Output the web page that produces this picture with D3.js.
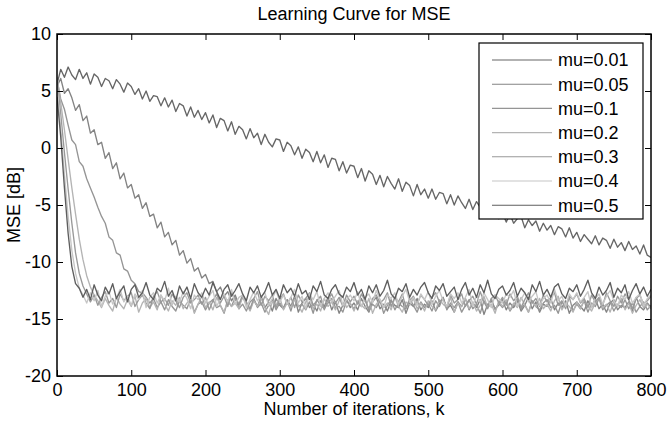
<!DOCTYPE html>
<html><head><meta charset="utf-8">
<script src="https://cdn.jsdelivr.net/npm/d3@7"></script>
<style>
body{margin:0;background:#fff}
text{font-family:"Liberation Sans",Arial,Helvetica,sans-serif;fill:#000}
</style>
</head><body>
<svg id="chart" width="668" height="424"></svg>
<script>
// iteration index k (every 5th iteration)
const iterations = d3.range(0, 801, 5);
const seriesNames = ["mu=0.01","mu=0.05","mu=0.1","mu=0.2","mu=0.3","mu=0.4","mu=0.5"];
const xTicks = [0,100,200,300,400,500,600,700,800];
const yTicks = [10,5,0,-5,-10,-15,-20];

const mse_mu001 = [
 5.6,6.9,6.2,7.1,6.4,6.0,6.9,6.1,6.6,5.6,6.5,6.2,5.4,6.1,5.9,5.2,6.0,5.6,4.9,5.7,
 5.4,4.7,5.2,4.3,5.0,4.1,4.6,4.5,3.7,4.4,3.6,4.2,3.2,3.9,3.7,2.8,3.6,2.7,3.3,2.5,
 3.1,2.2,2.9,1.8,2.6,2.4,1.5,2.3,1.2,1.9,1.6,0.8,1.7,0.9,1.3,0.3,1.2,0.5,0.1,0.8,
 0.7,-0.3,0.5,0.2,-0.6,0.1,-0.9,-0.1,-0.4,-1.2,-0.3,-1.3,-0.6,-1.7,-0.9,-1.0,-2.0,-1.2,-2.2,-1.5,
 -1.6,-2.6,-1.8,-2.9,-2.0,-2.3,-3.2,-2.4,-3.4,-2.5,-3.1,-3.6,-2.7,-3.8,-3.0,-3.3,-4.2,-3.2,-4.1,-3.6,
 -4.4,-3.6,-4.5,-3.9,-4.0,-4.9,-4.1,-5.0,-4.2,-4.8,-5.3,-4.5,-5.4,-4.7,-5.2,-5.7,-4.9,-5.9,-5.3,-6.2,
 -5.7,-6.5,-5.8,-6.6,-6.2,-6.0,-7.0,-6.3,-6.8,-6.4,-7.3,-6.6,-7.2,-6.8,-7.6,-6.9,-7.1,-7.8,-7.0,-7.9,
 -7.4,-8.2,-7.6,-8.0,-8.4,-7.7,-8.5,-7.9,-8.1,-8.8,-8.0,-8.7,-8.3,-9.0,-8.2,-8.9,-8.6,-9.3,-8.5,-9.4,
 -9.6];

const mse_mu005 = [
 5.4,6.1,4.8,5.2,4.4,3.3,3.8,2.4,2.8,1.3,1.6,0.3,0.5,-0.9,-0.4,-1.8,-1.3,-2.7,-2.2,-3.5,
 -3.2,-4.4,-4.1,-5.3,-4.8,-6.0,-5.8,-7.0,-6.5,-7.8,-7.4,-8.5,-8.1,-9.4,-9.0,-10.1,-9.7,-10.8,-10.5,-11.4,
 -11.1,-11.9,-11.7,-12.6,-12.2,-13.0,-12.6,-13.4,-12.9,-13.8,-13.1,-13.6,-14.2,-13.3,-13.9,-13.0,-14.0,-13.5,-14.3,-13.2,
 -13.8,-14.1,-13.3,-13.9,-13.0,-14.4,-13.6,-13.2,-14.0,-13.7,-14.3,-13.4,-13.9,-13.1,-14.2,-13.5,-14.5,-13.8,-13.3,-14.0,
 -13.6,-14.2,-13.2,-13.9,-14.4,-13.5,-13.1,-14.1,-13.7,-14.3,-13.4,-13.8,-14.0,-13.3,-14.5,-13.6,-13.9,-13.2,-14.2,-13.7,
 -14.0,-13.4,-14.3,-13.7,-13.1,-14.1,-13.8,-14.4,-13.5,-13.9,-13.2,-14.2,-13.6,-14.0,-13.3,-14.6,-13.7,-13.4,-14.1,-13.8,
 -13.3,-14.2,-13.6,-14.0,-13.4,-14.3,-13.8,-13.1,-14.1,-13.5,-14.4,-13.7,-13.9,-13.2,-14.2,-13.6,-14.0,-13.4,-14.5,-13.8,
 -13.5,-13.9,-14.3,-13.4,-14.0,-13.2,-14.1,-13.7,-14.4,-13.6,-13.3,-14.2,-13.8,-14.0,-13.5,-14.3,-13.1,-13.9,-14.2,-13.6,
 -14.0];

const mse_mu01 = [
 6.0,4.3,3.4,2.0,0.7,0.3,-1.2,-1.6,-2.7,-3.5,-4.3,-5.2,-6.0,-6.6,-7.8,-8.1,-9.2,-9.4,-10.6,-10.8,
 -11.6,-11.9,-12.6,-12.7,-13.1,-13.6,-13.2,-14.0,-13.5,-14.2,-13.3,-13.9,-14.3,-13.4,-13.8,-14.1,-13.2,-14.4,-13.7,-13.5,
 -14.2,-13.6,-13.3,-14.0,-13.8,-14.5,-13.4,-13.9,-13.1,-14.1,-13.7,-14.3,-13.5,-13.2,-14.0,-13.6,-14.4,-13.8,-13.3,-14.2,
 -13.6,-14.0,-13.4,-14.3,-13.1,-13.9,-13.7,-14.2,-13.5,-14.5,-13.3,-13.8,-14.1,-13.6,-13.2,-14.0,-13.9,-14.4,-13.4,-13.7,
 -14.1,-13.5,-13.9,-13.2,-14.3,-13.7,-14.0,-13.4,-14.5,-13.8,-13.3,-14.2,-13.6,-13.9,-14.1,-13.2,-13.8,-14.4,-13.5,-14.0,
 -13.7,-14.3,-13.4,-13.9,-13.1,-14.2,-13.6,-14.0,-13.5,-14.4,-13.8,-13.3,-14.1,-13.7,-14.5,-13.4,-13.9,-13.2,-14.2,-13.6,
 -14.0,-13.5,-14.3,-13.8,-13.2,-14.1,-13.7,-14.4,-13.4,-13.9,-14.2,-13.6,-13.3,-14.0,-13.8,-14.5,-13.5,-13.9,-13.1,-14.3,
 -13.7,-14.1,-13.4,-14.4,-13.6,-13.9,-13.2,-14.2,-13.8,-13.5,-14.3,-13.7,-14.0,-13.3,-14.1,-13.6,-14.4,-13.9,-13.5,-14.2,
 -13.8];

const mse_mu02 = [
 6.2,4.0,1.6,-1.0,-3.5,-5.8,-8.0,-9.8,-11.2,-12.2,-12.9,-13.4,-14.0,-13.2,-13.8,-14.3,-13.1,-13.7,-14.1,-13.3,
 -13.9,-13.0,-14.4,-13.6,-13.2,-14.0,-13.5,-14.2,-12.9,-13.7,-14.3,-13.4,-13.8,-13.1,-14.1,-13.6,-13.3,-14.5,-13.7,-13.0,
 -14.0,-13.5,-14.2,-13.1,-13.8,-14.4,-13.3,-13.9,-13.6,-14.1,-13.0,-13.7,-14.3,-13.4,-13.9,-13.2,-14.0,-14.6,-13.5,-13.8,
 -13.1,-14.2,-13.6,-14.0,-13.3,-13.8,-14.4,-13.5,-13.0,-14.1,-13.7,-14.3,-13.2,-13.9,-13.5,-14.2,-13.4,-13.0,-14.0,-13.6,
 -14.3,-13.4,-13.8,-14.1,-13.2,-14.5,-13.7,-13.3,-14.0,-13.6,-14.2,-13.1,-13.9,-14.4,-13.5,-13.8,-13.2,-14.1,-13.6,-14.3,
 -13.4,-13.9,-14.2,-13.3,-13.7,-14.0,-13.1,-14.4,-13.6,-13.9,-13.2,-14.1,-13.5,-14.3,-13.8,-13.0,-14.0,-13.7,-14.5,-13.4,
 -13.9,-13.3,-14.2,-13.6,-14.0,-13.1,-13.8,-14.4,-13.5,-13.9,-13.2,-14.1,-13.7,-14.3,-13.4,-13.0,-14.2,-13.6,-13.9,-14.4,
 -13.5,-14.1,-13.3,-13.8,-14.3,-13.6,-13.1,-14.0,-13.7,-14.4,-13.4,-13.9,-13.2,-14.2,-13.6,-14.5,-13.8,-13.3,-14.0,-13.7,
 -14.1];

const mse_mu03 = [
 6.0,3.0,-0.4,-3.6,-6.6,-9.2,-11.0,-12.1,-12.8,-13.5,-12.9,-13.8,-13.1,-12.6,-13.6,-13.2,-14.0,-12.8,-13.4,-13.0,
 -12.7,-13.9,-13.3,-12.9,-13.6,-14.1,-13.0,-12.6,-13.5,-13.2,-13.8,-12.8,-13.4,-14.0,-13.1,-12.7,-13.6,-13.3,-12.9,-13.7,
 -13.1,-14.2,-13.4,-12.8,-13.6,-13.0,-13.9,-12.7,-13.3,-13.7,-12.9,-13.5,-14.1,-13.2,-12.6,-13.8,-13.0,-13.4,-12.9,-14.0,
 -13.3,-12.8,-13.7,-13.1,-14.0,-12.9,-13.5,-13.2,-12.7,-13.8,-13.4,-13.0,-14.2,-13.3,-12.8,-13.6,-13.1,-13.9,-12.9,-13.5,
 -13.0,-13.7,-12.8,-13.4,-14.1,-13.2,-12.9,-13.6,-13.3,-12.7,-13.9,-13.1,-13.5,-12.8,-14.0,-13.4,-13.0,-13.7,-12.9,-13.3,
 -13.8,-13.1,-12.7,-13.5,-13.2,-14.0,-12.9,-13.6,-13.3,-12.8,-13.9,-13.4,-13.0,-13.7,-12.6,-13.5,-14.1,-13.2,-12.9,-13.6,
 -13.1,-13.8,-12.8,-13.4,-13.0,-14.0,-13.3,-12.7,-13.6,-13.2,-13.9,-12.9,-13.5,-13.1,-12.7,-13.8,-13.4,-14.1,-13.0,-13.3,
 -12.8,-13.6,-13.2,-14.0,-12.9,-13.5,-13.1,-13.8,-12.7,-13.4,-13.9,-13.0,-13.6,-12.8,-13.3,-14.1,-13.2,-12.9,-13.7,-13.4,
 -13.0];

const mse_mu04 = [
 5.5,1.8,-2.3,-6.0,-9.0,-11.0,-12.3,-12.9,-13.6,-12.7,-13.4,-12.5,-13.9,-13.0,-12.6,-13.7,-13.2,-12.4,-13.5,-13.0,
 -13.8,-12.8,-13.3,-12.5,-14.0,-13.1,-12.7,-13.6,-12.9,-13.4,-12.3,-13.8,-13.0,-13.5,-12.6,-13.2,-14.1,-12.9,-13.3,-12.7,
 -13.6,-13.0,-12.5,-13.9,-13.2,-12.8,-13.5,-12.4,-13.7,-13.1,-12.9,-14.0,-13.3,-12.6,-13.4,-13.0,-12.7,-13.8,-13.2,-12.5,
 -13.5,-12.9,-13.7,-13.1,-12.4,-13.6,-13.0,-14.1,-12.8,-13.3,-12.6,-13.9,-13.2,-12.7,-13.5,-13.0,-12.5,-13.8,-13.3,-12.9,
 -13.4,-12.6,-13.9,-13.1,-12.8,-13.6,-12.5,-13.3,-14.0,-12.9,-13.2,-12.7,-13.7,-13.0,-12.4,-13.5,-13.1,-13.8,-12.8,-13.3,
 -12.6,-13.7,-13.0,-12.5,-13.4,-13.9,-12.8,-13.2,-12.7,-13.6,-13.1,-12.4,-13.8,-13.0,-13.5,-12.7,-13.3,-14.0,-12.9,-13.2,
 -13.6,-12.8,-13.1,-12.5,-13.9,-13.3,-12.7,-13.5,-13.0,-12.6,-13.8,-13.2,-12.9,-13.6,-12.4,-13.4,-13.0,-13.9,-12.8,-13.3,
 -12.7,-13.5,-13.1,-12.6,-14.0,-13.2,-12.8,-13.7,-13.0,-12.5,-13.4,-13.9,-12.9,-13.3,-12.6,-13.6,-13.1,-12.8,-13.8,-13.2,
 -12.9];

const mse_mu05 = [
 4.5,1.0,-3.5,-7.5,-10.4,-11.9,-12.3,-13.1,-12.4,-13.3,-12.0,-12.9,-13.4,-12.2,-12.8,-11.9,-13.2,-12.6,-12.1,-13.5,
 -12.4,-12.0,-13.1,-12.7,-11.8,-12.9,-13.3,-12.3,-12.6,-11.7,-13.0,-12.5,-13.4,-12.1,-12.8,-12.2,-13.2,-11.9,-12.7,-13.1,
 -12.3,-12.9,-11.8,-12.6,-13.3,-12.4,-12.0,-13.0,-12.5,-11.9,-12.8,-13.4,-12.2,-12.7,-12.1,-13.1,-12.6,-11.8,-12.9,-12.4,
 -13.2,-12.0,-12.7,-12.3,-13.0,-11.9,-12.8,-12.5,-13.3,-12.1,-12.6,-11.7,-12.9,-13.2,-12.4,-12.0,-12.8,-13.1,-12.2,-12.6,
 -11.8,-12.9,-12.4,-13.3,-12.1,-12.7,-12.0,-13.0,-12.5,-11.6,-12.8,-13.2,-12.3,-12.6,-11.9,-13.1,-12.4,-12.9,-12.2,-11.8,
 -12.7,-13.2,-12.1,-12.5,-11.9,-13.0,-12.6,-12.2,-13.3,-12.4,-11.8,-12.9,-12.3,-13.1,-12.0,-12.7,-11.6,-12.8,-13.2,-12.4,
 -12.1,-12.9,-12.5,-11.8,-13.0,-12.3,-12.7,-13.3,-12.0,-12.6,-11.7,-12.9,-12.4,-13.1,-12.2,-11.9,-12.8,-13.2,-12.3,-12.6,
 -12.0,-13.0,-12.4,-11.6,-12.7,-13.2,-12.2,-12.9,-12.5,-11.8,-13.1,-12.3,-12.7,-12.0,-13.3,-12.5,-11.9,-12.8,-12.2,-13.0,
 -12.4];

const seriesValues = [mse_mu001, mse_mu005, mse_mu01, mse_mu02, mse_mu03, mse_mu04, mse_mu05];
const lineColors = ["#666666","#838383","#959595","#b4b4b4","#999999","#c6c6c6","#5e5e5e"];

const svg = d3.select("#chart");
const L = 57, R = 651, T = 34, B = 376;
const x = d3.scaleLinear().domain([0, 800]).range([L, R]);
const y = d3.scaleLinear().domain([-20, 10]).range([B, T]);
const FS = 18;

svg.append("defs").append("clipPath").attr("id","clip")
  .append("rect").attr("x", L).attr("y", T).attr("width", R - L).attr("height", B - T);

// lines
const line = d3.line().x((d, i) => x(iterations[i])).y(d => y(d));
const g = svg.append("g").attr("clip-path", "url(#clip)");
seriesValues.forEach((vals, si) => {
  g.append("path").datum(vals)
    .attr("d", line)
    .attr("fill", "none")
    .attr("stroke", lineColors[si])
    .attr("stroke-width", 1.35)
    .attr("stroke-linejoin", "round");
});

// axes (inward ticks, MATLAB style)
function styleAxis(sel) {
  sel.select(".domain").remove();
  sel.selectAll(".tick line").attr("stroke", "#000").attr("stroke-width", 1);
  sel.selectAll("text").style("font-size", FS + "px").attr("fill", "#000");
}
svg.append("g").attr("transform", `translate(0,${B})`)
  .call(d3.axisBottom(x).tickValues(xTicks).tickSize(-6).tickPadding(7).tickFormat(d3.format("d")))
  .call(styleAxis);
svg.append("g").attr("transform", `translate(0,${T})`)
  .call(d3.axisTop(x).tickValues(xTicks).tickSize(-6).tickFormat(""))
  .call(styleAxis);
svg.append("g").attr("transform", `translate(${L},0)`)
  .call(d3.axisLeft(y).tickValues(yTicks).tickSize(-6).tickPadding(6).tickFormat(d => d < 0 ? "-" + Math.abs(d) : d))
  .call(styleAxis);
svg.append("g").attr("transform", `translate(${R},0)`)
  .call(d3.axisRight(y).tickValues(yTicks).tickSize(-6).tickFormat(""))
  .call(styleAxis);

svg.append("rect").attr("x", L).attr("y", T).attr("width", R - L).attr("height", B - T)
  .attr("fill", "none").attr("stroke", "#000").attr("stroke-width", 1.5);

// labels
svg.append("text").attr("x", (L + R) / 2).attr("y", 20).attr("text-anchor", "middle")
  .style("font-size", FS + "px").text("Learning Curve for MSE");
svg.append("text").attr("x", (L + R) / 2).attr("y", 415).attr("text-anchor", "middle")
  .style("font-size", FS + "px").text("Number of iterations, k");
svg.append("text").attr("transform", `translate(20,${(T + B) / 2}) rotate(-90)`).attr("text-anchor", "middle")
  .style("font-size", FS + "px").text("MSE [dB]");

// legend
const lg = svg.append("g");
const lgX = 479, lgY = 43, lgW = 164, lgRow = 24.2, lgH = 176;
lg.append("rect").attr("x", lgX).attr("y", lgY).attr("width", lgW).attr("height", lgH)
  .attr("fill", "#fff").attr("stroke", "#000").attr("stroke-width", 1.2);
seriesNames.forEach((name, i) => {
  const cy = lgY + 17 + i * lgRow;
  lg.append("line").attr("x1", lgX + 13).attr("x2", lgX + 73).attr("y1", cy).attr("y2", cy)
    .attr("stroke", lineColors[i]).attr("stroke-width", 1.1);
  lg.append("text").attr("x", lgX + 79).attr("y", cy).attr("dy", "0.35em")
    .style("font-size", FS + "px").text(name);
});
</script>
</body></html>
